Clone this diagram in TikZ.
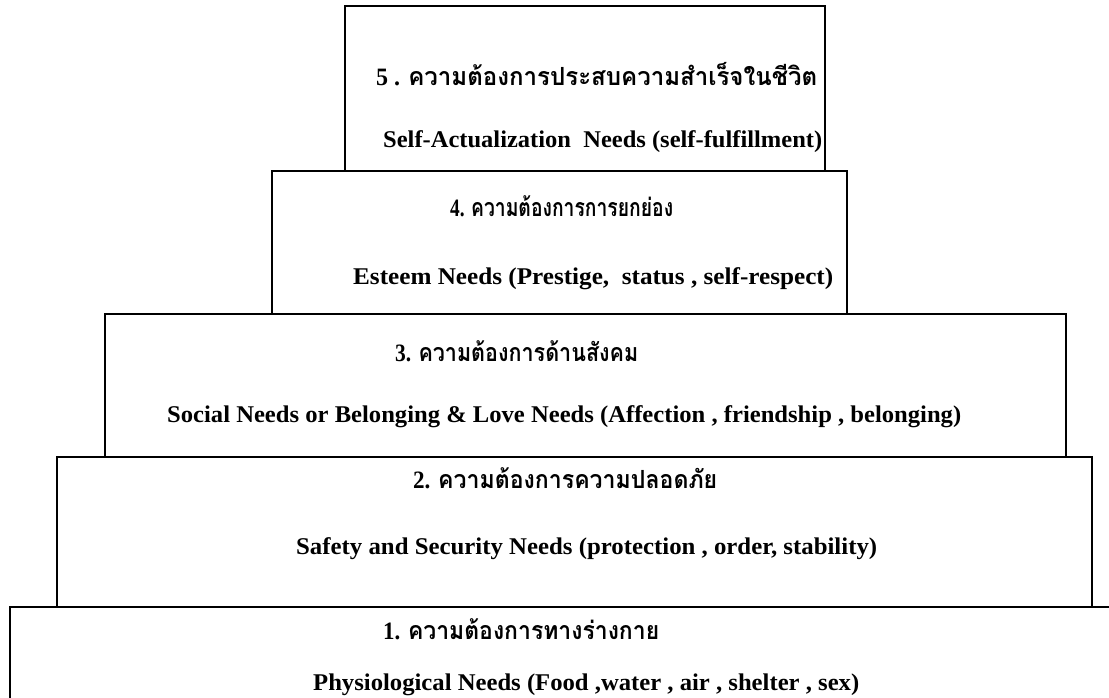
\documentclass[tikz,border=0pt]{standalone}
\usepackage{fontspec}
\setmainfont{Liberation Serif}
\newfontfamily\thaifont[Script=Thai]{Loma}
\usepackage{graphicx}
% fit text horizontally to a width, keep its natural height
\newcommand\fitw[2]{\resizebox{#1pt}{\height}{#2}}
\tikzset{
  tier/.style={draw=black, line width=1.6pt, rectangle, inner sep=0pt, anchor=north west},
  lbl/.style={inner sep=0pt, anchor=west, font=\fontsize{24}{26}\selectfont\bfseries},
  thl/.style={inner sep=0pt, anchor=west, font=\fontsize{25}{27}\selectfont\bfseries}
}
\begin{document}
\begin{tikzpicture}[x=1pt,y=-1pt]
\useasboundingbox (0,0) rectangle (1109,697);
\clip (0,0) rectangle (1109,697);
\node[tier, minimum width=1110pt, minimum height=100pt] (t1) at (9,606) {};
\node[tier, minimum width=1035pt, minimum height=150pt] (t2) at (56,456) {};
\node[tier, minimum width=961pt, minimum height=143pt] (t3) at (104,313) {};
\node[tier, minimum width=575pt, minimum height=143pt] (t4) at (271,170) {};
\node[tier, minimum width=480pt, minimum height=165pt] (t5) at (344,5) {};
% tier 5
\node[thl] (t5a) at (376,74) {\fitw{441}{5 . {\thaifont ความต้องการประสบความสำเร็จในชีวิต}}};
\node[lbl] (t5b) at (383,142) {\fitw{439}{Self-Actualization\ \ Needs (self-fulfillment)}};
% tier 4
\node[thl] (t4a) at (450,206) {\fitw{223}{4. {\thaifont ความต้องการการยกย่อง}}};
\node[lbl] (t4b) at (353,279) {\fitw{480}{Esteem Needs (Prestige,\ \ status , self-respect)}};
% tier 3
\node[thl] (t3a) at (395,351) {\fitw{243}{3. {\thaifont ความต้องการด้านสังคม}}};
\node[lbl] (t3b) at (167,417) {\fitw{794}{Social Needs or Belonging \& Love Needs (Affection , friendship , belonging)}};
% tier 2
\node[thl] (t2a) at (413,478) {\fitw{304}{2. {\thaifont ความต้องการความปลอดภัย}}};
\node[lbl] (t2b) at (296,549) {\fitw{581}{Safety and Security Needs (protection , order, stability)}};
% tier 1
\node[thl] (t1a) at (383,629) {\fitw{276}{1. {\thaifont ความต้องการทางร่างกาย}}};
\node[lbl] (t1b) at (313,685) {\fitw{546}{Physiological Needs (Food ,water , air , shelter , sex)}};
\end{tikzpicture}
\end{document}
